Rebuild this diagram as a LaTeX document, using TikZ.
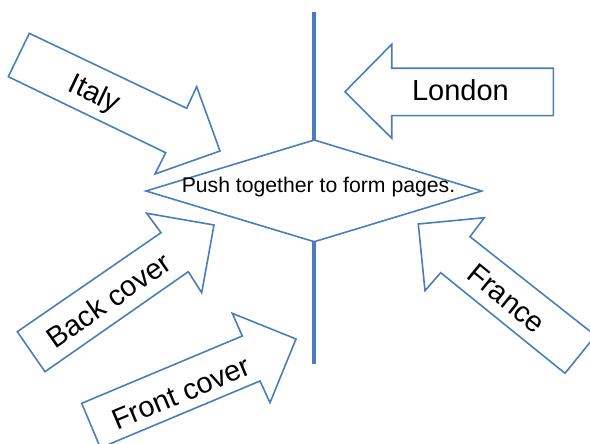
\documentclass[tikz,border=0pt]{standalone}
\usepackage{fontspec}
\setmainfont{Liberation Sans}
\definecolor{lineblue}{RGB}{74,126,187}
\begin{document}
\begin{tikzpicture}[x=1pt,y=-1pt,
  shapeline/.style={draw=lineblue,line width=1.6pt,line join=miter,fill=white},
  biglabel/.style={font=\fontsize{29}{31}\selectfont,inner sep=0pt},
  smalllabel/.style={font=\fontsize{21.2}{23}\selectfont,inner sep=0pt}]
\useasboundingbox (0,0) rectangle (590,444);
\clip (0,0) rectangle (590,444);
% vertical bar
\draw[lineblue,line width=4pt] (314.3,12) -- (314.3,364);
% diamond
\draw[shapeline] (146,191) -- (314.3,140) -- (481.7,191) -- (314.3,241.7) -- cycle;
\node[smalllabel] (push) at (318.5,187) {Push together to form pages.};
% Italy arrow
\draw[shapeline] (29.3,33.3) -- (186.7,108.3) -- (196.7,86.7) -- (220,151) -- (155,174) -- (165.7,152.7) -- (8.3,76.7) -- cycle;
\node[biglabel,rotate=-25.5] (italy) at (94,95) {Italy};
% London arrow
\draw[shapeline] (345,91.7) -- (391.7,44.3) -- (391.7,68.3) -- (553.3,68.3) -- (553.3,115.7) -- (391.7,115.7) -- (391.7,138.3) -- cycle;
\node[biglabel] (london) at (460.5,90) {London};
% Back cover arrow
\draw[shapeline] (17.3,331.7) -- (161,232.7) -- (146.7,213.3) -- (214,225) -- (201.7,292.7) -- (188.3,271.7) -- (45,371.7) -- cycle;
\node[biglabel,rotate=34.9] (back) at (108.5,300) {Back cover};
% Front cover arrow
\draw[shapeline] (81.7,403.3) -- (242.3,336) -- (232.3,313.3) -- (296,339) -- (270,402.7) -- (260,381) -- (100.4,447.9) -- cycle;
\node[biglabel,rotate=22.7] (front) at (181,393) {Front cover};
% France arrow
\draw[shapeline] (418.3,224) -- (484.3,217.7) -- (470,236.7) -- (595.5,335.6) -- (565,373.3) -- (440.7,272.7) -- (425,290.7) -- cycle;
\node[biglabel,rotate=-39] (france) at (506.5,298.5) {France};
\end{tikzpicture}
\end{document}
